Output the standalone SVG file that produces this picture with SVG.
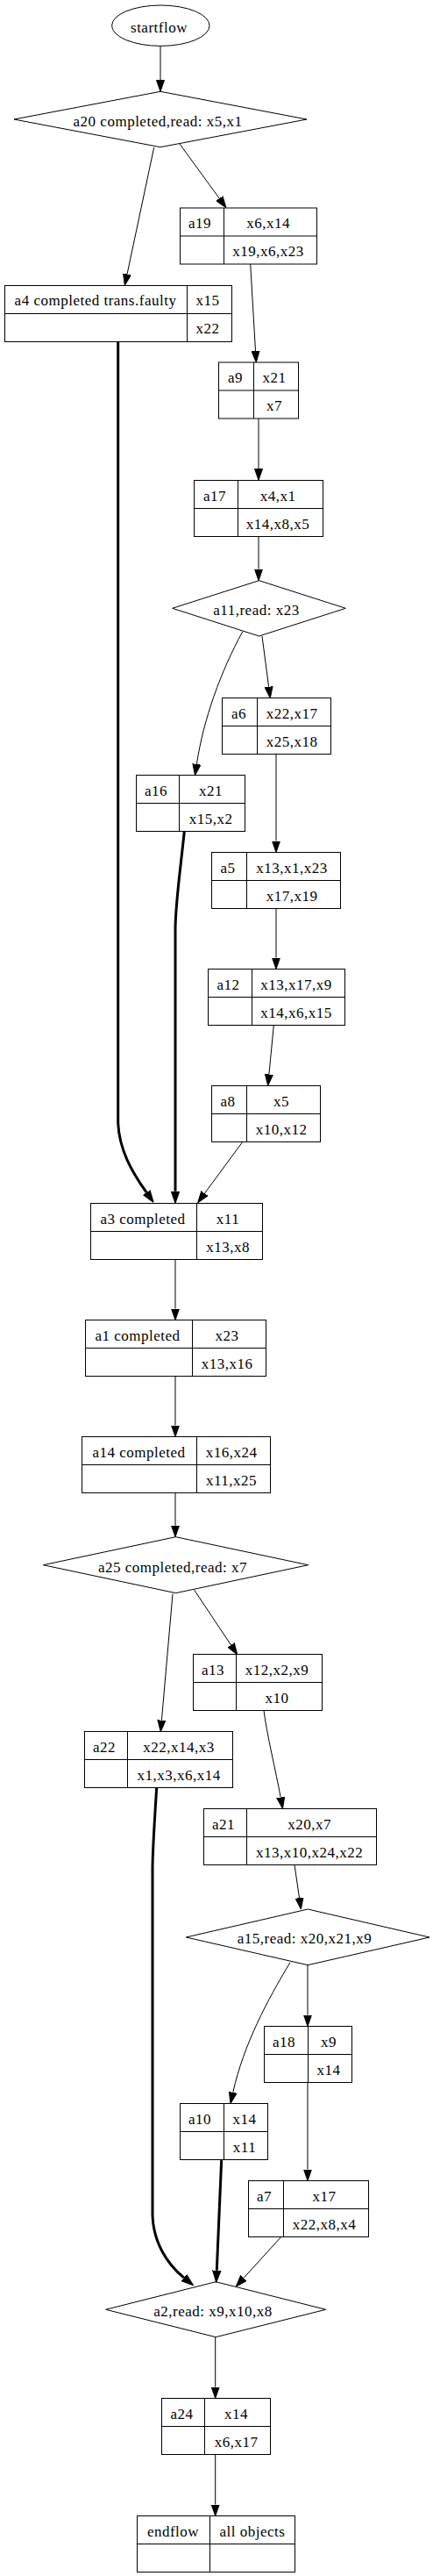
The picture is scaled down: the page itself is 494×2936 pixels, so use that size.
<svg xmlns="http://www.w3.org/2000/svg" width="494" height="2936" viewBox="0 0 494 2936">
<style>
text{font-family:"Liberation Serif","Times New Roman",serif;font-size:17px;letter-spacing:0.5px;text-anchor:middle;fill:#000}
.shape{fill:none;stroke:#000;stroke-width:1}
.e{fill:none;stroke:#000;stroke-width:1}
.t{fill:none;stroke:#000;stroke-width:3}
</style>
<defs>
<marker id="ah" viewBox="0 0 13 10" refX="0" refY="5" markerWidth="13" markerHeight="10" markerUnits="userSpaceOnUse" orient="auto">
<path d="M0,0.5 L13,5 L0,9.5 z" fill="#000" stroke="#000" stroke-width="1"/>
</marker>
<marker id="ahb" viewBox="0 0 14 11" refX="0" refY="5.5" markerWidth="14" markerHeight="11" markerUnits="userSpaceOnUse" orient="auto">
<path d="M0,1 L13,5.5 L0,10 z" fill="#000" stroke="#000" stroke-width="1.5"/>
</marker>
</defs>
<rect width="494" height="2936" fill="#fff"/>
<g id="connectors">
<path class="e" marker-end="url(#ah)" d="M183,52.3 L183,91.3"/>
<path class="e" marker-end="url(#ah)" d="M205,164 L250.3,226.2"/>
<path class="e" marker-end="url(#ah)" d="M175.7,168 L145,312.6"/>
<path class="e" marker-end="url(#ah)" d="M285.7,301 L291.5,400"/>
<path class="e" marker-end="url(#ah)" d="M295,477 L295,534.3"/>
<path class="e" marker-end="url(#ah)" d="M295,611.5 L295,648.7"/>
<path class="e" marker-end="url(#ah)" d="M299,725 L306.6,782.8"/>
<path class="e" marker-end="url(#ah)" d="M276.7,720 C252,765 232,820 224.4,871"/>
<path class="t" marker-end="url(#ahb)" d="M210.3,947.5 C206,990 200,1030 200,1060 L200,1357.7"/>
<path class="t" marker-end="url(#ahb)" d="M134.7,389.5 L134.7,1280 C136,1310 150,1335 167.2,1359.2"/>
<path class="e" marker-end="url(#ah)" d="M315,859.5 L315,958.5"/>
<path class="e" marker-end="url(#ah)" d="M315,1035.5 L315,1091.5"/>
<path class="e" marker-end="url(#ah)" d="M312.3,1168.5 L306.9,1224.5"/>
<path class="e" marker-end="url(#ah)" d="M276.7,1301.5 L233.4,1360.2"/>
<path class="e" marker-end="url(#ah)" d="M200,1435.5 L200,1491.5"/>
<path class="e" marker-end="url(#ah)" d="M200,1568.5 L200,1624.5"/>
<path class="e" marker-end="url(#ah)" d="M200,1701.5 L200,1738.7"/>
<path class="e" marker-end="url(#ah)" d="M221.7,1812.3 L263.5,1874.9"/>
<path class="e" marker-end="url(#ah)" d="M197,1816.7 L184.4,1960.7"/>
<path class="e" marker-end="url(#ah)" d="M301,1949.5 C304,1975 315,2020 320.2,2048.6"/>
<path class="t" marker-end="url(#ahb)" d="M178.7,2037.5 C176,2080 174,2110 174,2130 L174,2525 C175,2555 190,2580 209.9,2596.1"/>
<path class="t" marker-end="url(#ahb)" d="M252.7,2461.5 L247.3,2587.7"/>
<path class="e" marker-end="url(#ah)" d="M320.7,2549.5 L278,2596.4"/>
<path class="e" marker-end="url(#ah)" d="M336,2125.5 L341.5,2163.1"/>
<path class="e" marker-end="url(#ah)" d="M351,2239.7 L351,2296.5"/>
<path class="e" marker-end="url(#ah)" d="M331,2236.7 C305,2280 278,2330 265.8,2384.8"/>
<path class="e" marker-end="url(#ah)" d="M351,2373.5 L351,2472.5"/>
<path class="e" marker-end="url(#ah)" d="M245.7,2663.7 L245.7,2720.5"/>
<path class="e" marker-end="url(#ah)" d="M245.7,2797.5 L245.7,2854.5"/>
</g>
<g id="startflow">
<ellipse class="shape" cx="183.3" cy="29.2" rx="55.7" ry="23.2"/>
<text x="181.5" y="36.5">startflow</text>
</g>
<g id="a20">
<polygon class="shape" points="183,104.3 350,136 183,167.7 16,136"/>
<text x="180" y="143.5">a20 completed,read: x5,x1</text>
</g>
<g id="a19">
<rect class="shape" x="205.5" y="237" width="156" height="64"/>
<line class="shape" x1="205.5" y1="269" x2="361.5" y2="269"/>
<line class="shape" x1="255.5" y1="237" x2="255.5" y2="301"/>
<text x="228" y="260">a19</text><text x="306" y="260">x6,x14</text><text x="306" y="292">x19,x6,x23</text>
</g>
<g id="a4">
<rect class="shape" x="5.5" y="325.5" width="259" height="64"/>
<line class="shape" x1="5.5" y1="357.5" x2="264.5" y2="357.5"/>
<line class="shape" x1="213.5" y1="325.5" x2="213.5" y2="389.5"/>
<text x="109" y="348">a4 completed trans.faulty</text><text x="237" y="348">x15</text><text x="237" y="380">x22</text>
</g>
<g id="a9">
<rect class="shape" x="249.5" y="413" width="91" height="64"/>
<line class="shape" x1="249.5" y1="445" x2="340.5" y2="445"/>
<line class="shape" x1="289.5" y1="413" x2="289.5" y2="477"/>
<text x="268.5" y="436">a9</text><text x="313" y="436">x21</text><text x="313" y="468">x7</text>
</g>
<g id="a17">
<rect class="shape" x="221.5" y="547.5" width="147" height="64"/>
<line class="shape" x1="221.5" y1="579.5" x2="368.5" y2="579.5"/>
<line class="shape" x1="271.5" y1="547.5" x2="271.5" y2="611.5"/>
<text x="245" y="570.5">a17</text><text x="317" y="570.5">x4,x1</text><text x="317" y="602.5">x14,x8,x5</text>
</g>
<g id="a11">
<polygon class="shape" points="295.5,661.7 394.3,693.3 295.5,725 196.7,693.3"/>
<text x="292.5" y="700.5">a11,read: x23</text>
</g>
<g id="a6">
<rect class="shape" x="253.5" y="795.5" width="124" height="64"/>
<line class="shape" x1="253.5" y1="827.5" x2="377.5" y2="827.5"/>
<line class="shape" x1="293.5" y1="795.5" x2="293.5" y2="859.5"/>
<text x="272.5" y="818.5">a6</text><text x="333" y="818.5">x22,x17</text><text x="333" y="850.5">x25,x18</text>
</g>
<g id="a16">
<rect class="shape" x="155.5" y="883.5" width="124" height="64"/>
<line class="shape" x1="155.5" y1="915.5" x2="279.5" y2="915.5"/>
<line class="shape" x1="204.5" y1="883.5" x2="204.5" y2="947.5"/>
<text x="178" y="906.5">a16</text><text x="240.5" y="906.5">x21</text><text x="240.5" y="938.5">x15,x2</text>
</g>
<g id="a5">
<rect class="shape" x="241.5" y="971.5" width="147" height="64"/>
<line class="shape" x1="241.5" y1="1003.5" x2="388.5" y2="1003.5"/>
<line class="shape" x1="281.5" y1="971.5" x2="281.5" y2="1035.5"/>
<text x="260" y="994.5">a5</text><text x="333" y="994.5">x13,x1,x23</text><text x="333" y="1026.5">x17,x19</text>
</g>
<g id="a12">
<rect class="shape" x="237.5" y="1104.5" width="156" height="64"/>
<line class="shape" x1="237.5" y1="1136.5" x2="393.5" y2="1136.5"/>
<line class="shape" x1="287.5" y1="1104.5" x2="287.5" y2="1168.5"/>
<text x="260.5" y="1127.5">a12</text><text x="338" y="1127.5">x13,x17,x9</text><text x="338" y="1159.5">x14,x6,x15</text>
</g>
<g id="a8">
<rect class="shape" x="241.5" y="1237.5" width="124" height="64"/>
<line class="shape" x1="241.5" y1="1269.5" x2="365.5" y2="1269.5"/>
<line class="shape" x1="281.5" y1="1237.5" x2="281.5" y2="1301.5"/>
<text x="260" y="1260.5">a8</text><text x="321" y="1260.5">x5</text><text x="321" y="1292.5">x10,x12</text>
</g>
<g id="a3">
<rect class="shape" x="103.5" y="1371.5" width="196" height="64"/>
<line class="shape" x1="103.5" y1="1403.5" x2="299.5" y2="1403.5"/>
<line class="shape" x1="224.5" y1="1371.5" x2="224.5" y2="1435.5"/>
<text x="163" y="1394.5">a3 completed</text><text x="260" y="1394.5">x11</text><text x="260" y="1426.5">x13,x8</text>
</g>
<g id="a1">
<rect class="shape" x="97.5" y="1504.5" width="206" height="64"/>
<line class="shape" x1="97.5" y1="1536.5" x2="303.5" y2="1536.5"/>
<line class="shape" x1="219.5" y1="1504.5" x2="219.5" y2="1568.5"/>
<text x="157" y="1527.5">a1 completed</text><text x="259" y="1527.5">x23</text><text x="259" y="1559.5">x13,x16</text>
</g>
<g id="a14">
<rect class="shape" x="93.5" y="1637.5" width="215" height="64"/>
<line class="shape" x1="93.5" y1="1669.5" x2="308.5" y2="1669.5"/>
<line class="shape" x1="224.5" y1="1637.5" x2="224.5" y2="1701.5"/>
<text x="158.5" y="1660.5">a14 completed</text><text x="264" y="1660.5">x16,x24</text><text x="264" y="1692.5">x11,x25</text>
</g>
<g id="a25">
<polygon class="shape" points="200.5,1751.7 351.7,1783.7 200.5,1815.7 49.3,1783.7"/>
<text x="197" y="1791.5">a25 completed,read: x7</text>
</g>
<g id="a13">
<rect class="shape" x="220.5" y="1885.5" width="147" height="64"/>
<line class="shape" x1="220.5" y1="1917.5" x2="367.5" y2="1917.5"/>
<line class="shape" x1="269.5" y1="1885.5" x2="269.5" y2="1949.5"/>
<text x="243" y="1908.5">a13</text><text x="316" y="1908.5">x12,x2,x9</text><text x="316" y="1940.5">x10</text>
</g>
<g id="a22">
<rect class="shape" x="96.5" y="1973.5" width="169" height="64"/>
<line class="shape" x1="96.5" y1="2005.5" x2="265.5" y2="2005.5"/>
<line class="shape" x1="145.5" y1="1973.5" x2="145.5" y2="2037.5"/>
<text x="119" y="1996.5">a22</text><text x="204" y="1996.5">x22,x14,x3</text><text x="204" y="2028.5">x1,x3,x6,x14</text>
</g>
<g id="a21">
<rect class="shape" x="232.5" y="2061.5" width="197" height="64"/>
<line class="shape" x1="232.5" y1="2093.5" x2="429.5" y2="2093.5"/>
<line class="shape" x1="281.5" y1="2061.5" x2="281.5" y2="2125.5"/>
<text x="255" y="2084.5">a21</text><text x="353" y="2084.5">x20,x7</text><text x="353" y="2116.5">x13,x10,x24,x22</text>
</g>
<g id="a15">
<polygon class="shape" points="351.2,2176 490,2208 351.2,2239.7 212.3,2208"/>
<text x="347.5" y="2215">a15,read: x20,x21,x9</text>
</g>
<g id="a18">
<rect class="shape" x="301.5" y="2309.5" width="100" height="64"/>
<line class="shape" x1="301.5" y1="2341.5" x2="401.5" y2="2341.5"/>
<line class="shape" x1="351.5" y1="2309.5" x2="351.5" y2="2373.5"/>
<text x="324" y="2332.5">a18</text><text x="375" y="2332.5">x9</text><text x="375" y="2364.5">x14</text>
</g>
<g id="a10">
<rect class="shape" x="205.5" y="2397.5" width="100" height="64"/>
<line class="shape" x1="205.5" y1="2429.5" x2="305.5" y2="2429.5"/>
<line class="shape" x1="255.5" y1="2397.5" x2="255.5" y2="2461.5"/>
<text x="228" y="2420.5">a10</text><text x="279" y="2420.5">x14</text><text x="279" y="2452.5">x11</text>
</g>
<g id="a7">
<rect class="shape" x="283.5" y="2485.5" width="137" height="64"/>
<line class="shape" x1="283.5" y1="2517.5" x2="420.5" y2="2517.5"/>
<line class="shape" x1="323.5" y1="2485.5" x2="323.5" y2="2549.5"/>
<text x="301.5" y="2508.5">a7</text><text x="370" y="2508.5">x17</text><text x="370" y="2540.5">x22,x8,x4</text>
</g>
<g id="a2">
<polygon class="shape" points="246.2,2600.7 371.7,2632.3 246.2,2663.7 120.7,2632.3"/>
<text x="243" y="2640">a2,read: x9,x10,x8</text>
</g>
<g id="a24">
<rect class="shape" x="184.5" y="2733.5" width="124" height="64"/>
<line class="shape" x1="184.5" y1="2765.5" x2="308.5" y2="2765.5"/>
<line class="shape" x1="233.5" y1="2733.5" x2="233.5" y2="2797.5"/>
<text x="207.5" y="2756.5">a24</text><text x="269.5" y="2756.5">x14</text><text x="269.5" y="2788.5">x6,x17</text>
</g>
<g id="endflow">
<rect class="shape" x="156.5" y="2867.5" width="180" height="64"/>
<line class="shape" x1="156.5" y1="2899.5" x2="336.5" y2="2899.5"/>
<line class="shape" x1="239.5" y1="2867.5" x2="239.5" y2="2931.5"/>
<text x="197.5" y="2890.5">endflow</text><text x="288" y="2890.5">all objects</text>
</g>
</svg>
